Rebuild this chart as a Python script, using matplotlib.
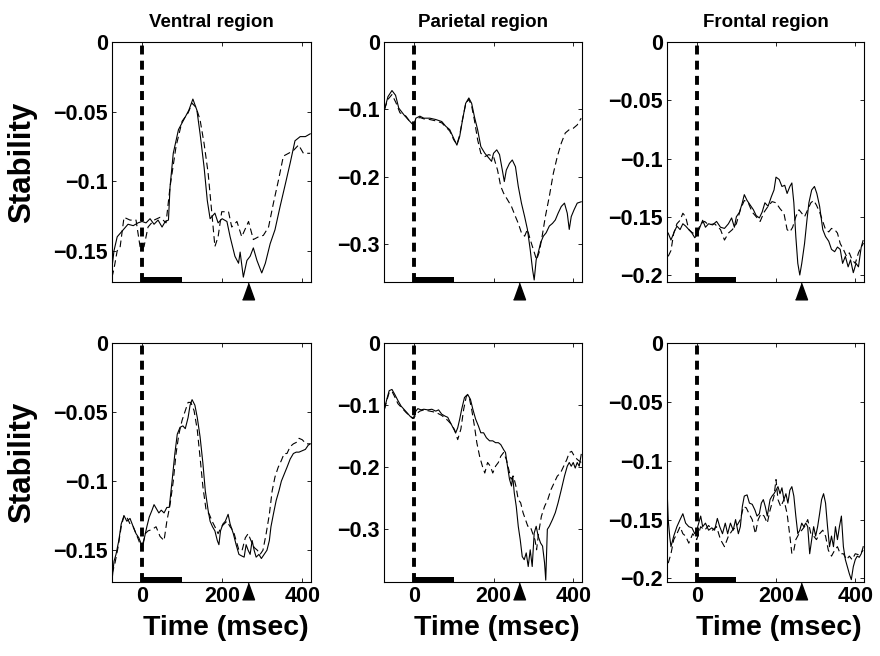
import matplotlib
matplotlib.use("Agg")
from matplotlib import pyplot as plt
from matplotlib.patches import Rectangle

plt.rcParams['font.family'] = ['Liberation Sans', 'DejaVu Sans']
plt.rcParams['font.weight'] = 'bold'

# ---- data (time in msec, stability values) ----
regions = ['Ventral region', 'Parietal region', 'Frontal region']

# top row
t1s = [-75,-70,-62,-47,-35,-22,-10,0,10,20,30,40,50,58,66,70,78,91,104,117,127,137,145,155,163,170,182,190,200,212,220,232,241,245,253,262,270,278,287,299,308,320,332,345,358,370,382,395,408,420]
v1s = [-0.162,-0.150,-0.140,-0.135,-0.131,-0.132,-0.130,-0.129,-0.130,-0.127,-0.131,-0.128,-0.133,-0.129,-0.128,-0.104,-0.080,-0.063,-0.056,-0.049,-0.041,-0.049,-0.066,-0.090,-0.114,-0.127,-0.123,-0.130,-0.127,-0.129,-0.140,-0.154,-0.159,-0.151,-0.169,-0.157,-0.154,-0.148,-0.157,-0.166,-0.159,-0.145,-0.135,-0.118,-0.102,-0.087,-0.071,-0.068,-0.068,-0.066]
t1d = [-75,-70,-62,-55,-45,-30,-15,-5,0,5,15,30,45,60,70,85,100,115,125,135,145,155,165,175,182,190,199,216,224,237,249,266,278,291,303,316,328,341,353,366,378,391,403,420]
v1d = [-0.169,-0.163,-0.150,-0.148,-0.126,-0.128,-0.128,-0.147,-0.149,-0.147,-0.133,-0.128,-0.126,-0.130,-0.104,-0.075,-0.057,-0.051,-0.044,-0.047,-0.056,-0.073,-0.094,-0.125,-0.147,-0.140,-0.122,-0.122,-0.133,-0.129,-0.140,-0.129,-0.142,-0.140,-0.139,-0.133,-0.116,-0.099,-0.082,-0.080,-0.078,-0.074,-0.080,-0.080]

t2s = [-74,-65,-55,-46,-38,-25,-13,0,5,15,25,40,55,70,80,90,100,108,115,122,130,138,145,152,160,168,178,188,195,200,208,215,222,227,232,240,247,255,262,270,278,285,292,298,302,307,312,318,325,332,340,348,355,362,370,378,385,390,395,402,410,420]
v2s = [-0.101,-0.081,-0.072,-0.079,-0.098,-0.108,-0.116,-0.124,-0.113,-0.110,-0.113,-0.113,-0.115,-0.118,-0.125,-0.130,-0.143,-0.153,-0.140,-0.116,-0.091,-0.083,-0.091,-0.111,-0.130,-0.155,-0.165,-0.172,-0.177,-0.165,-0.160,-0.167,-0.190,-0.207,-0.190,-0.180,-0.175,-0.185,-0.214,-0.239,-0.259,-0.278,-0.308,-0.338,-0.353,-0.323,-0.313,-0.298,-0.288,-0.283,-0.273,-0.269,-0.264,-0.254,-0.244,-0.239,-0.254,-0.278,-0.259,-0.249,-0.239,-0.237]
t2d = [-74,-65,-55,-45,-35,-20,-10,0,5,15,25,40,55,70,80,90,100,108,115,122,130,138,145,152,160,168,178,188,200,210,218,225,235,245,255,262,270,278,285,292,300,308,315,322,330,340,350,360,370,380,390,400,410,420]
v2d = [-0.100,-0.085,-0.078,-0.090,-0.105,-0.110,-0.118,-0.122,-0.115,-0.112,-0.114,-0.115,-0.117,-0.120,-0.126,-0.132,-0.145,-0.152,-0.138,-0.115,-0.092,-0.085,-0.095,-0.116,-0.145,-0.165,-0.170,-0.167,-0.170,-0.190,-0.214,-0.224,-0.234,-0.244,-0.259,-0.269,-0.283,-0.288,-0.278,-0.293,-0.308,-0.323,-0.311,-0.288,-0.259,-0.229,-0.195,-0.170,-0.150,-0.135,-0.130,-0.128,-0.123,-0.113]

t3s = [-72,-65,-58,-50,-42,-35,-28,-20,-12,-5,0,8,15,22,30,40,50,60,70,80,88,95,100,108,115,120,127,135,143,150,158,165,172,180,188,195,200,208,215,222,228,235,240,245,250,255,260,265,272,278,283,290,297,303,310,318,325,333,340,348,355,362,368,375,382,388,395,402,408,415,420]
v3s = [-0.164,-0.170,-0.164,-0.158,-0.161,-0.156,-0.158,-0.161,-0.164,-0.168,-0.166,-0.159,-0.153,-0.159,-0.156,-0.157,-0.154,-0.159,-0.160,-0.156,-0.151,-0.159,-0.150,-0.146,-0.138,-0.131,-0.136,-0.140,-0.144,-0.149,-0.151,-0.146,-0.138,-0.141,-0.133,-0.127,-0.116,-0.118,-0.124,-0.123,-0.130,-0.124,-0.121,-0.138,-0.167,-0.190,-0.200,-0.190,-0.173,-0.153,-0.138,-0.127,-0.124,-0.130,-0.141,-0.161,-0.167,-0.171,-0.178,-0.180,-0.176,-0.178,-0.190,-0.184,-0.193,-0.187,-0.198,-0.190,-0.193,-0.176,-0.173]
t3d = [-72,-65,-58,-50,-42,-35,-28,-20,-10,0,10,20,30,45,60,70,80,90,100,110,120,130,140,150,160,170,180,190,200,210,220,228,235,242,250,258,265,272,280,288,295,302,310,318,325,333,340,348,355,362,370,378,385,392,400,408,415,420]
v3d = [-0.184,-0.179,-0.164,-0.156,-0.153,-0.147,-0.150,-0.161,-0.164,-0.164,-0.156,-0.154,-0.157,-0.156,-0.161,-0.170,-0.164,-0.161,-0.156,-0.144,-0.136,-0.138,-0.146,-0.150,-0.154,-0.146,-0.141,-0.137,-0.138,-0.143,-0.147,-0.161,-0.163,-0.159,-0.150,-0.144,-0.147,-0.150,-0.144,-0.138,-0.136,-0.140,-0.146,-0.154,-0.161,-0.163,-0.160,-0.161,-0.164,-0.173,-0.178,-0.184,-0.181,-0.187,-0.190,-0.181,-0.176,-0.170]

# bottom row
t4s = [-75,-70,-65,-58,-52,-45,-38,-30,-22,-15,-8,0,6,12,18,25,30,36,42,48,55,62,68,75,82,88,95,102,108,115,120,125,132,138,145,152,158,165,170,176,182,188,192,196,202,208,215,220,228,235,242,248,255,260,265,270,275,280,285,292,298,305,312,318,322,328,335,342,348,355,362,370,378,385,392,400,408,415,420]
v4s = [-0.172,-0.158,-0.153,-0.143,-0.131,-0.125,-0.129,-0.127,-0.133,-0.138,-0.141,-0.147,-0.141,-0.133,-0.126,-0.121,-0.117,-0.120,-0.123,-0.121,-0.123,-0.119,-0.119,-0.100,-0.080,-0.066,-0.061,-0.060,-0.062,-0.054,-0.045,-0.041,-0.045,-0.054,-0.068,-0.087,-0.107,-0.121,-0.129,-0.133,-0.136,-0.143,-0.146,-0.136,-0.131,-0.129,-0.124,-0.131,-0.138,-0.146,-0.153,-0.154,-0.155,-0.146,-0.150,-0.153,-0.143,-0.150,-0.155,-0.153,-0.156,-0.153,-0.150,-0.143,-0.133,-0.124,-0.114,-0.107,-0.100,-0.095,-0.090,-0.084,-0.080,-0.079,-0.079,-0.078,-0.077,-0.074,-0.073]
t4d = [-75,-68,-60,-52,-45,-38,-30,-22,-15,-8,0,8,15,25,35,45,55,62,70,78,85,92,100,108,115,122,130,138,145,152,160,168,175,182,190,198,205,212,220,228,235,242,250,258,265,272,280,288,295,302,310,318,325,332,340,348,355,362,370,378,385,392,400,410,420]
v4d = [-0.167,-0.160,-0.148,-0.133,-0.125,-0.126,-0.131,-0.133,-0.138,-0.143,-0.150,-0.138,-0.136,-0.135,-0.133,-0.140,-0.143,-0.129,-0.117,-0.100,-0.080,-0.066,-0.056,-0.049,-0.043,-0.043,-0.049,-0.063,-0.083,-0.104,-0.121,-0.124,-0.129,-0.133,-0.138,-0.133,-0.131,-0.129,-0.133,-0.136,-0.143,-0.150,-0.150,-0.141,-0.138,-0.143,-0.148,-0.150,-0.153,-0.150,-0.138,-0.124,-0.107,-0.097,-0.090,-0.085,-0.080,-0.080,-0.075,-0.073,-0.072,-0.069,-0.070,-0.073,-0.073]

t5s = [-74,-68,-62,-55,-48,-40,-32,-25,-18,-10,-3,0,5,10,18,25,35,45,55,62,70,78,85,92,100,105,110,115,120,127,135,142,148,155,162,168,175,182,190,198,205,212,218,225,230,235,240,245,248,252,257,262,267,272,277,282,287,292,297,302,307,312,318,323,328,331,335,340,348,355,362,370,378,385,390,395,400,405,410,415,420]
v5s = [-0.107,-0.091,-0.077,-0.075,-0.083,-0.093,-0.102,-0.107,-0.112,-0.118,-0.122,-0.119,-0.110,-0.106,-0.108,-0.107,-0.108,-0.107,-0.110,-0.108,-0.115,-0.118,-0.120,-0.129,-0.139,-0.145,-0.137,-0.123,-0.107,-0.088,-0.083,-0.091,-0.107,-0.123,-0.134,-0.145,-0.145,-0.153,-0.158,-0.158,-0.161,-0.161,-0.164,-0.172,-0.177,-0.199,-0.220,-0.231,-0.215,-0.242,-0.264,-0.296,-0.318,-0.345,-0.350,-0.339,-0.361,-0.334,-0.361,-0.307,-0.296,-0.312,-0.323,-0.328,-0.355,-0.383,-0.301,-0.296,-0.285,-0.274,-0.258,-0.237,-0.215,-0.199,-0.193,-0.199,-0.193,-0.202,-0.193,-0.199,-0.180]
t5d = [-74,-68,-62,-55,-48,-40,-30,-20,-10,0,5,15,25,40,55,70,85,95,102,110,118,125,132,138,145,152,158,165,172,178,185,192,198,205,212,218,225,232,238,244,250,256,262,268,274,280,286,292,298,304,308,313,320,328,336,344,352,360,368,376,384,390,396,403,410,420]
v5d = [-0.107,-0.093,-0.080,-0.078,-0.087,-0.098,-0.105,-0.112,-0.118,-0.122,-0.115,-0.110,-0.108,-0.110,-0.112,-0.117,-0.125,-0.132,-0.140,-0.156,-0.139,-0.107,-0.085,-0.085,-0.107,-0.134,-0.161,-0.183,-0.199,-0.210,-0.193,-0.199,-0.210,-0.199,-0.193,-0.183,-0.177,-0.188,-0.204,-0.220,-0.215,-0.231,-0.253,-0.258,-0.274,-0.285,-0.296,-0.296,-0.307,-0.318,-0.334,-0.307,-0.280,-0.264,-0.253,-0.237,-0.226,-0.215,-0.210,-0.199,-0.188,-0.177,-0.175,-0.183,-0.188,-0.193]

t6s = [-75,-72,-68,-65,-58,-50,-42,-35,-28,-20,-12,-5,0,5,10,15,22,30,38,45,52,58,65,72,78,85,92,98,105,110,115,120,127,133,140,147,152,158,163,168,173,178,185,190,195,200,205,210,215,220,225,230,235,240,245,250,255,260,265,270,275,280,285,290,295,300,305,310,315,320,325,330,335,340,345,350,355,360,365,370,375,380,385,390,395,400,405,410,415,420]
v6s = [-0.122,-0.150,-0.165,-0.173,-0.164,-0.156,-0.150,-0.145,-0.153,-0.156,-0.157,-0.162,-0.159,-0.153,-0.147,-0.156,-0.153,-0.159,-0.157,-0.159,-0.149,-0.156,-0.162,-0.153,-0.162,-0.153,-0.159,-0.150,-0.162,-0.156,-0.139,-0.130,-0.129,-0.136,-0.137,-0.142,-0.147,-0.145,-0.136,-0.133,-0.139,-0.147,-0.133,-0.130,-0.128,-0.125,-0.122,-0.128,-0.123,-0.133,-0.128,-0.136,-0.125,-0.122,-0.130,-0.147,-0.162,-0.159,-0.153,-0.156,-0.153,-0.156,-0.179,-0.167,-0.156,-0.164,-0.156,-0.145,-0.133,-0.128,-0.136,-0.156,-0.173,-0.164,-0.173,-0.156,-0.167,-0.156,-0.147,-0.173,-0.184,-0.190,-0.196,-0.201,-0.190,-0.184,-0.181,-0.182,-0.179,-0.173]
t6d = [-72,-65,-58,-50,-42,-35,-28,-20,-10,0,10,20,30,40,50,60,70,80,90,100,110,118,125,132,140,148,155,162,170,178,185,195,200,205,212,220,228,235,240,245,250,258,265,272,280,288,295,302,310,318,325,332,340,348,355,362,370,378,385,392,400,410,420]
v6d = [-0.187,-0.179,-0.167,-0.162,-0.156,-0.162,-0.164,-0.170,-0.162,-0.167,-0.156,-0.159,-0.155,-0.159,-0.156,-0.167,-0.173,-0.164,-0.159,-0.156,-0.150,-0.139,-0.140,-0.145,-0.150,-0.162,-0.150,-0.145,-0.147,-0.153,-0.142,-0.130,-0.116,-0.133,-0.139,-0.133,-0.145,-0.164,-0.179,-0.176,-0.167,-0.162,-0.159,-0.156,-0.150,-0.162,-0.164,-0.167,-0.162,-0.159,-0.164,-0.176,-0.181,-0.176,-0.173,-0.179,-0.179,-0.184,-0.181,-0.184,-0.179,-0.180,-0.176]

ylims = [-0.1725, -0.356, -0.206, -0.173, -0.386, -0.203]
yticks = [[-0.15, -0.1, -0.05, 0], [-0.3, -0.2, -0.1, 0], [-0.2, -0.15, -0.1, -0.05, 0]]
ytick_labels = [['\u22120.15', '\u22120.1', '\u22120.05', '0'],
                ['\u22120.3', '\u22120.2', '\u22120.1', '0'],
                ['\u22120.2', '\u22120.15', '\u22120.1', '\u22120.05', '0']]
xticks = [0, 200, 400]
xlim = (-75, 422)
stim_on, stim_off = 0, 100   # stimulus bar
marker_t = 264               # arrow-head under each panel

solid = [(t1s, v1s), (t2s, v2s), (t3s, v3s), (t4s, v4s), (t5s, v5s), (t6s, v6s)]
dashed = [(t1d, v1d), (t2d, v2d), (t3d, v3d), (t4d, v4d), (t5d, v5d), (t6d, v6d)]

fig = plt.figure(figsize=(8.8, 6.56), dpi=100)

# axes boxes in pixels
lefts = [112, 384, 667]
widths = [199, 198, 197]
tops = [42, 343]
bottoms = [282, 582]

tri = [(-0.36, -0.5), (0.36, -0.5), (0.0, 0.5)]

for k in range(6):
    row, col = divmod(k, 3)
    l = lefts[col] / 880
    w = widths[col] / 880
    b = 1 - bottoms[row] / 656
    h = (bottoms[row] - tops[row]) / 656
    ax = fig.add_axes([l, b, w, h])

    ts, vs = solid[k]
    td, vd = dashed[k]
    ax.plot(td, vd, color='k', lw=0.8, linestyle=(0, (6, 3.5)))
    ax.plot(ts, vs, color='k', lw=0.8)

    ax.set_xlim(*xlim)
    ax.set_ylim(ylims[k], 0)

    ax.axvline(0, color='k', lw=2.8, linestyle=(0, (2.3, 1.6)))
    ax.add_patch(Rectangle((stim_on, 0), stim_off - stim_on, 0.021,
                           transform=ax.get_xaxis_transform(), color='k', lw=0))
    ax.plot([marker_t], [-0.036], marker=tri, markersize=12, color='k',
            transform=ax.get_xaxis_transform(), clip_on=False)

    ax.set_yticks(yticks[col])
    ax.set_yticklabels(ytick_labels[col])
    ax.set_xticks(xticks)
    if row == 0:
        ax.set_xticklabels([])
        ax.set_title(regions[col], fontsize=13.5, fontweight='bold', pad=11)
    else:
        ax.set_xticklabels([str(x) for x in xticks])
        ax.set_xlabel('Time (msec)', fontsize=20.5, fontweight='bold')
        ax.xaxis.set_label_coords(0.57, -0.14)

    ax.tick_params(direction='in', length=3, width=0.6, top=True, right=True,
                   labelsize=15.5, pad=3)
    for lab in ax.get_xticklabels() + ax.get_yticklabels():
        lab.set_fontweight('bold')
    for sp in ax.spines.values():
        sp.set_linewidth(0.8)

    if col == 0:
        ax.set_ylabel('Stability', fontsize=22.5, fontweight='bold')
        ax.yaxis.set_label_coords(-0.375, 0.5)

fig.savefig('out.png', dpi=100)
